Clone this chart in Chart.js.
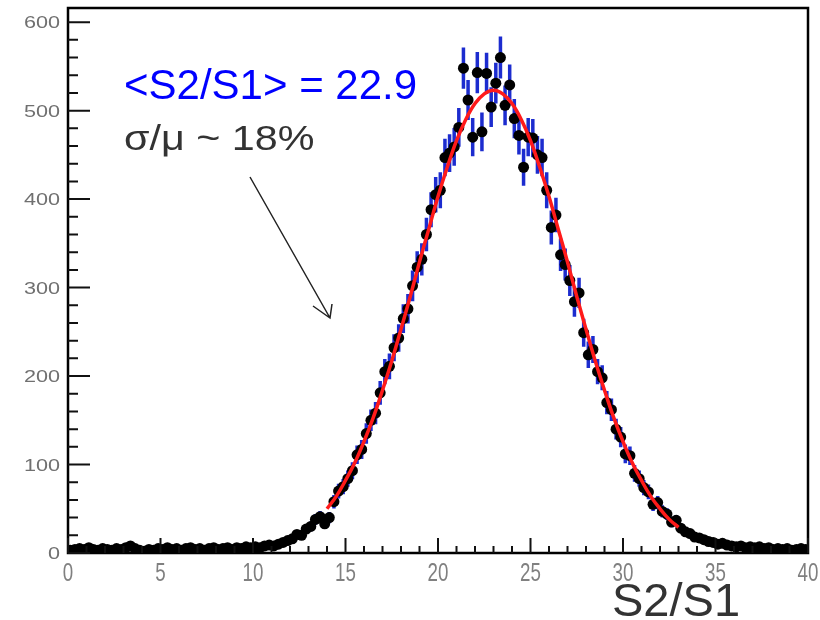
<!DOCTYPE html>
<html>
<head>
<meta charset="utf-8">
<script src="https://cdn.jsdelivr.net/npm/chart.js@4"></script>
<style>
  html, body { margin: 0; padding: 0; background: #fff; }
  #wrap { width: 820px; height: 620px; }
</style>
</head>
<body>
<div id="wrap"><canvas id="chart" width="820" height="620"></canvas></div>
<script>
// histogram of S2/S1, bins of 0.25 from 0 to 40
const binWidth = 0.25;
const counts = [
    3, 4, 5, 4, 6, 4, 3, 5, 4, 3, 5, 4, 6, 8, 5, 3, 2, 4, 3, 5,
    4, 6, 4, 5, 3, 5, 6, 4, 5, 3, 5, 6, 4, 5, 6, 4, 6, 5, 7, 6,
    7, 6, 8, 9, 8, 10, 12, 14,
    16, 21, 20, 27, 30, 38, 41, 33,
    40, 58, 70, 75, 84, 93, 111, 117,
    135, 150, 158, 181, 205, 211, 232, 243,
    265, 276, 302, 323, 332, 360, 388, 405,
    410, 447, 452, 459,
    481, 548, 512, 470, 543, 476, 542, 504, 531, 560, 506, 529,
    491, 472, 436, 470, 469, 450, 447, 410, 368, 382, 337, 326,
    308, 284, 294, 249, 224, 230, 205, 198, 170, 162, 140, 131,
    112, 110, 90, 84, 74, 69, 55, 57, 47, 44, 35, 37,
    28, 24, 22, 18, 17, 15, 13, 12, 10, 11, 9, 8,
    7, 8, 6, 7, 6, 7, 5, 6, 4, 5, 4, 5, 3, 4, 5, 4
];

// gaussian fit curve
const fitX = [14, 14.5, 15, 15.5, 16, 16.5, 17, 17.5, 18, 18.5, 19, 19.5, 20, 20.5, 21, 21.5, 22, 22.5,
    23, 23.5, 24, 24.5, 25, 25.5, 26, 26.5, 27, 27.5, 28, 28.5, 29, 29.5, 30, 30.5, 31, 31.5, 32, 32.5, 33];
const fitY = [50, 64, 82, 102, 126, 153, 184, 217, 253, 290, 329, 366, 403, 436, 466, 490, 508, 519,
    523, 519, 508, 490, 466, 436, 403, 366, 329, 290, 253, 217, 184, 153, 126, 102, 82, 64, 50, 38, 29];

const xTicks = [0, 5, 10, 15, 20, 25, 30, 35, 40];
const yTicks = [0, 100, 200, 300, 400, 500, 600];

const points = counts.map((c, i) => ({ x: (i + 0.5) * binWidth, y: c }));
const fitPoints = fitX.map((x, i) => ({ x: x, y: fitY[i] }));

const FONT = '"Liberation Sans", Arial, sans-serif';

function drawText(ctx, text, x, y, size, color, align, hscale) {
    ctx.save();
    ctx.font = size + 'px ' + FONT;
    ctx.fillStyle = color;
    ctx.textBaseline = 'alphabetic';
    const w = ctx.measureText(text).width * hscale;
    let left = x;
    if (align === 'center') left = x - w / 2;
    if (align === 'right') left = x - w;
    ctx.translate(left, y);
    ctx.scale(hscale, 1);
    ctx.fillText(text, 0, 0);
    ctx.restore();
}

// blue sqrt(N) error bars under the markers
const errorBars = {
    id: 'errorBars',
    beforeDatasetsDraw(chart) {
        const ctx = chart.ctx;
        const xs = chart.scales.x, ys = chart.scales.y;
        ctx.save();
        ctx.strokeStyle = '#1c2ccf';
        ctx.lineWidth = 3.5;
        ctx.beginPath();
        points.forEach(p => {
            const e = Math.sqrt(p.y);
            const px = xs.getPixelForValue(p.x);
            ctx.moveTo(px, ys.getPixelForValue(p.y - e));
            ctx.lineTo(px, ys.getPixelForValue(p.y + e));
        });
        ctx.stroke();
        ctx.restore();
    }
};

// ROOT-like frame, inner ticks, labels and annotation
const frame = {
    id: 'frame',
    afterDraw(chart) {
        const ctx = chart.ctx;
        const a = chart.chartArea;
        const xs = chart.scales.x, ys = chart.scales.y;
        ctx.save();
        ctx.strokeStyle = '#000';
        ctx.lineWidth = 2.5;
        ctx.strokeRect(a.left, a.top, a.right - a.left, a.bottom - a.top);

        ctx.lineWidth = 2;
        ctx.strokeStyle = '#111';
        ctx.beginPath();
        for (let v = 0; v <= 40; v += 1) {
            const px = xs.getPixelForValue(v);
            const len = v % 5 === 0 ? 15 : 7;
            ctx.moveTo(px, a.bottom);
            ctx.lineTo(px, a.bottom - len);
        }
        for (let v = 0; v <= 600; v += 20) {
            const py = ys.getPixelForValue(v);
            const len = v % 100 === 0 ? 22 : 10;
            ctx.moveTo(a.left, py);
            ctx.lineTo(a.left + len, py);
        }
        ctx.stroke();
        ctx.restore();

        xTicks.forEach(v => {
            drawText(ctx, String(v), xs.getPixelForValue(v), a.bottom + 28, 25, '#808080', 'center', 0.75);
        });
        yTicks.forEach(v => {
            drawText(ctx, String(v), a.left - 8, ys.getPixelForValue(v) + 6, 16, '#707070', 'right', 1.35);
        });

        drawText(ctx, 'S2/S1', 612, 616, 47, '#333', 'left', 1);
        drawText(ctx, '<S2/S1> = 22.9', 124, 99, 42, '#0000ff', 'left', 1);
        drawText(ctx, 'σ/μ ~ 18%', 124, 150, 35, '#333', 'left', 1.18);

        // arrow
        ctx.save();
        ctx.strokeStyle = '#222';
        ctx.lineWidth = 1.5;
        ctx.beginPath();
        ctx.moveTo(250, 177);
        ctx.lineTo(330, 318);
        ctx.moveTo(313, 306);
        ctx.lineTo(330, 318);
        ctx.lineTo(332, 304);
        ctx.stroke();
        ctx.restore();
    }
};

const ctx = document.getElementById('chart').getContext('2d');
new Chart(ctx, {
    type: 'scatter',
    data: {
        datasets: [
            {
                label: 'fit',
                type: 'line',
                data: fitPoints,
                borderColor: '#ff1a1a',
                borderWidth: 3.5,
                pointRadius: 0,
                tension: 0.4,
                fill: false,
                order: 0
            },
            {
                label: 'S2/S1',
                data: points,
                pointRadius: 5.5,
                pointBackgroundColor: '#000',
                pointBorderColor: '#000',
                pointBorderWidth: 0,
                order: 1
            }
        ]
    },
    options: {
        responsive: false,
        animation: false,
        devicePixelRatio: 1,
        layout: { padding: { top: 8, right: 12, left: 0, bottom: 0 } },
        plugins: {
            legend: { display: false },
            tooltip: { enabled: false }
        },
        scales: {
            x: {
                type: 'linear',
                min: 0,
                max: 40,
                grid: { display: false },
                border: { display: false },
                ticks: { display: false },
                afterFit: s => { s.height = 67; }
            },
            y: {
                type: 'linear',
                min: 0,
                max: 616,
                grid: { display: false },
                border: { display: false },
                ticks: { display: false },
                afterFit: s => { s.width = 68; }
            }
        }
    },
    plugins: [errorBars, frame]
});
</script>
</body>
</html>
